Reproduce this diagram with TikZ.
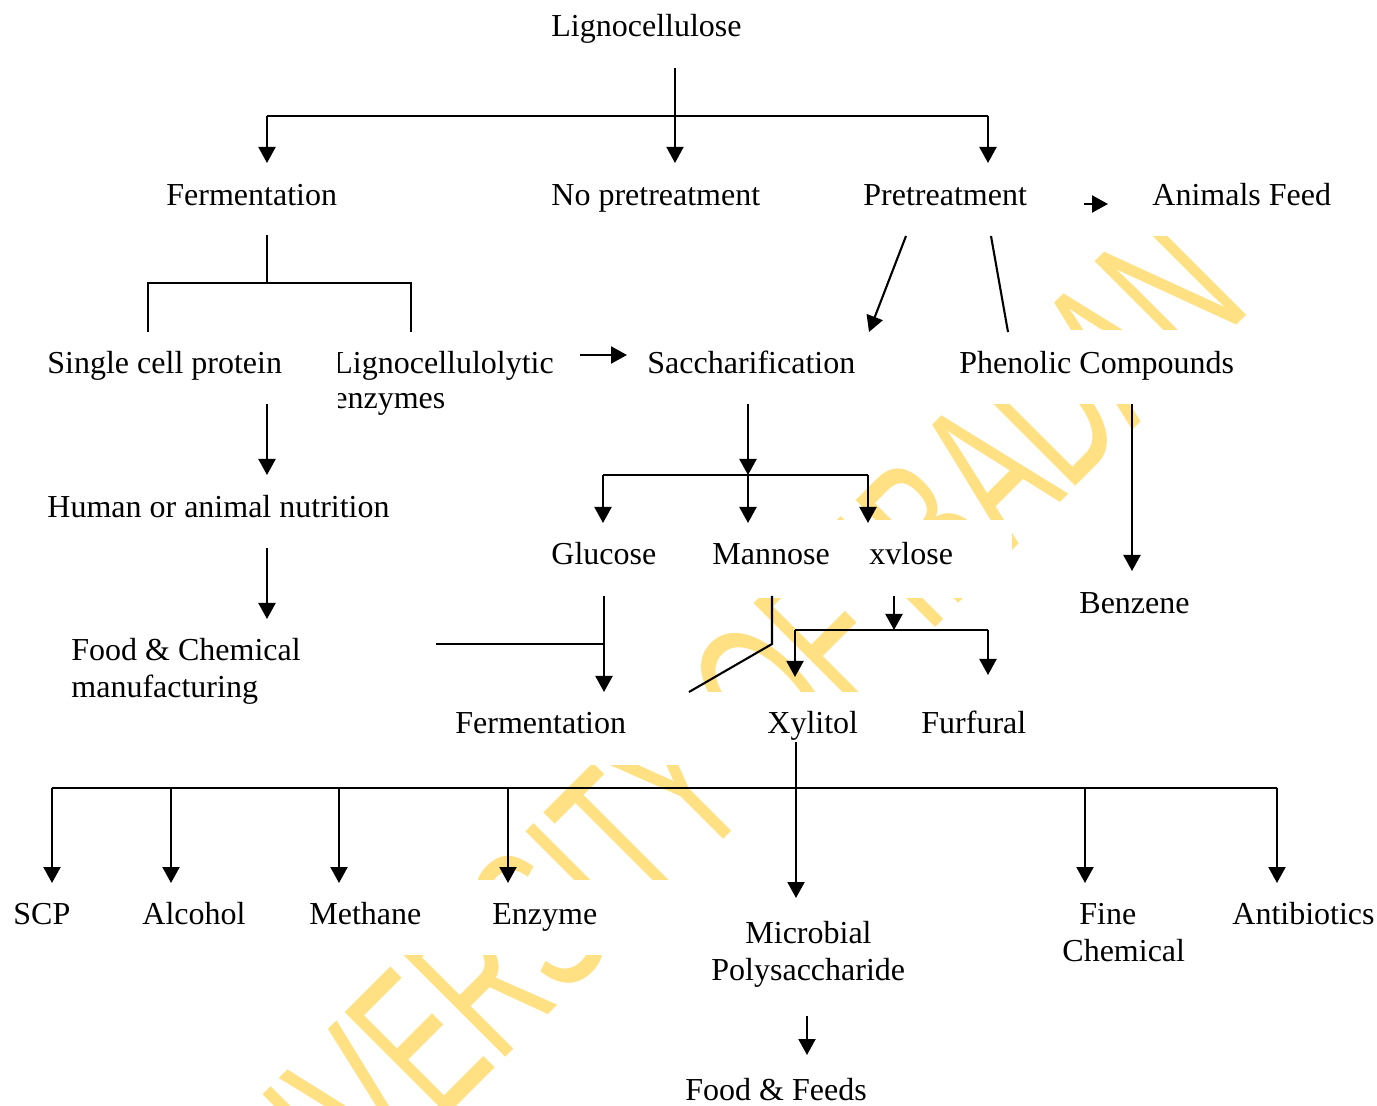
\documentclass[tikz,border=0pt]{standalone}
\usepackage{fontspec}
\setmainfont{Liberation Serif}
\newfontfamily\wmfont{Liberation Sans}
\usetikzlibrary{arrows.meta}
\definecolor{wmyellow}{RGB}{255,224,130}
\begin{document}
\begin{tikzpicture}[x=0.5pt,y=-0.5pt,
  lbl/.style={anchor=base west, inner sep=0pt, yshift=-0.75pt, font=\fontsize{16pt}{18.5pt}\selectfont},
  ln/.style={line width=1.05pt},
  thin ln/.style={line width=0.75pt},
  arr/.style={line width=1.05pt, -{Triangle[length=8pt,width=8.5pt]}},
  wm/.style={text=wmyellow, rotate=45, xscale=0.588, inner sep=0pt, font=\wmfont\fontsize{105.5pt}{105.5pt}\selectfont},
  band/.style={fill=white, draw=none}]
\useasboundingbox (0,0) rectangle (1377,1106);
% watermark
\node[wm] (wmark) at (691,769) {UNIVERSITY OF IBADAN};
\fill[band] (0,140) rectangle (1377,236);
\fill[band] (0,330) rectangle (1377,404);
\fill[band] (0,520) rectangle (1012,598);
\fill[band] (0,692) rectangle (1377,765);
\fill[band] (0,880) rectangle (1377,955);
% texts
\node[lbl] (ligno) at (551,35) {Lignocellulose};
\node[lbl] (ferm) at (166,204) {Fermentation};
\node[lbl] (nopre) at (551,204) {No pretreatment};
\node[lbl] (pre) at (863,204) {Pretreatment};
\node[lbl] (feed) at (1152,204) {Animals Feed};
\node[lbl] (scp) at (47,372) {Single cell protein};
\begin{scope}
\clip (338,330) rectangle (570,420);
\node[lbl] (lyta) at (333,372) {Lignocellulolytic};
\node[lbl] (lytb) at (333,407) {enzymes};
\end{scope}
\node[lbl] (sacch) at (647,372) {Saccharification};
\node[lbl] (phen) at (959,372) {Phenolic Compounds};
\node[lbl] (human) at (47,516) {Human or animal nutrition};
\node[lbl] (gluc) at (551,563) {Glucose};
\node[lbl] (mann) at (712,563) {Mannose};
\node[lbl] (xyl) at (869,563) {xvlose};
\node[lbl] (benz) at (1079,612) {Benzene};
\node[lbl] (fooda) at (71,659) {Food \& Chemical};
\node[lbl] (foodb) at (71,696) {manufacturing};
\node[lbl] (ferm2) at (455,732) {Fermentation};
\node[lbl] (xylit) at (767,732) {Xylitol};
\node[lbl] (furf) at (921,732) {Furfural};
\node[lbl] (scp2) at (13,923) {SCP};
\node[lbl] (alc) at (142,923) {Alcohol};
\node[lbl] (meth) at (309,923) {Methane};
\node[lbl] (enz) at (492,923) {Enzyme};
\node[lbl] (mpa) at (745,942) {Microbial};
\node[lbl] (mpb) at (711,979) {Polysaccharide};
\node[lbl] (finea) at (1079,923) {Fine};
\node[lbl] (fineb) at (1062,960) {Chemical};
\node[lbl] (anti) at (1232,923) {Antibiotics};
\node[lbl] (ff) at (685,1099) {Food \& Feeds};
% coordinates
\coordinate (lg0) at (675,68);
\coordinate (lgA) at (675,163);
\coordinate (lgL) at (267,116);
\coordinate (lgR) at (988,116);
\coordinate (lgLt) at (267,163);
\coordinate (lgRt) at (988,163);
\coordinate (fe0) at (267,235);
\coordinate (fe1) at (267,283);
\coordinate (feL) at (148,283);
\coordinate (feR) at (411,283);
\coordinate (feLt) at (148,332);
\coordinate (feRt) at (411,332);
\coordinate (ly0) at (580,355);
\coordinate (ly1) at (627,355);
\coordinate (pr0) at (906,236);
\coordinate (pr1) at (869,332);
\coordinate (pr2) at (991,236);
\coordinate (pr3) at (1008,332);
\coordinate (af0) at (1084,204);
\coordinate (af1) at (1108,204);
\coordinate (sc0) at (267,404);
\coordinate (sc1) at (267,475);
\coordinate (hu0) at (267,548);
\coordinate (hu1) at (267,619);
\coordinate (sa0) at (748,404);
\coordinate (sa1) at (748,475);
\coordinate (saL) at (603,475);
\coordinate (saR) at (868,475);
\coordinate (saLt) at (603,523);
\coordinate (saMt) at (748,523);
\coordinate (saRt) at (868,523);
\coordinate (ph0) at (1132,404);
\coordinate (ph1) at (1132,571);
\coordinate (gl0) at (604,596);
\coordinate (gl1) at (604,692);
\coordinate (gl2) at (604,644);
\coordinate (fc0) at (436,644);
\coordinate (ma0) at (772,596);
\coordinate (ma1) at (772,644);
\coordinate (ma2) at (689,692);
\coordinate (xv0) at (894,596);
\coordinate (xv1) at (894,630);
\coordinate (xvL) at (795,630);
\coordinate (xvR) at (988,630);
\coordinate (xvLt) at (795,677);
\coordinate (xvRt) at (988,675);
\coordinate (xl0) at (796,742);
\coordinate (xl1) at (796,898);
\coordinate (bL) at (52,788);
\coordinate (bR) at (1277,788);
\coordinate (b1) at (171,788);
\coordinate (b2) at (339,788);
\coordinate (b3) at (508,788);
\coordinate (b4) at (1085,788);
\coordinate (bLt) at (52,883);
\coordinate (b1t) at (171,883);
\coordinate (b2t) at (339,883);
\coordinate (b3t) at (508,883);
\coordinate (b4t) at (1085,883);
\coordinate (bRt) at (1277,883);
\coordinate (mp0) at (807,1016);
\coordinate (mp1) at (807,1055);
% connectors
\draw[ln] (lgL) -- (lgR);
\draw[arr, line width=0.75pt] (lg0) -- (lgA);
\draw[arr] (lgL) -- (lgLt);
\draw[arr] (lgR) -- (lgRt);
\draw[thin ln] (fe0) -- (fe1);
\draw[ln] (feLt) -- (feL) -- (feR) -- (feRt);
\draw[arr] (ly0) -- (ly1);
\draw[arr] (pr0) -- (pr1);
\draw[ln] (pr2) -- (pr3);
\draw[arr] (af0) -- (af1);
\draw[arr] (sc0) -- (sc1);
\draw[arr] (hu0) -- (hu1);
\draw[arr] (sa0) -- (sa1);
\draw[ln] (saL) -- (saR);
\draw[arr] (saL) -- (saLt);
\draw[arr] (sa1) -- (saMt);
\draw[arr] (saR) -- (saRt);
\draw[arr] (ph0) -- (ph1);
\draw[arr] (gl0) -- (gl1);
\draw[ln] (fc0) -- (gl2);
\draw[ln] (ma0) -- (ma1) -- (ma2);
\draw[arr] (xv0) -- (xv1);
\draw[ln] (xvL) -- (xvR);
\draw[arr] (xvL) -- (xvLt);
\draw[arr] (xvR) -- (xvRt);
\draw[arr] (xl0) -- (xl1);
\draw[ln] (bL) -- (bR);
\draw[arr] (bL) -- (bLt);
\draw[arr] (b1) -- (b1t);
\draw[arr] (b2) -- (b2t);
\draw[arr] (b3) -- (b3t);
\draw[arr] (b4) -- (b4t);
\draw[arr] (bR) -- (bRt);
\draw[arr] (mp0) -- (mp1);
\end{tikzpicture}
\end{document}
